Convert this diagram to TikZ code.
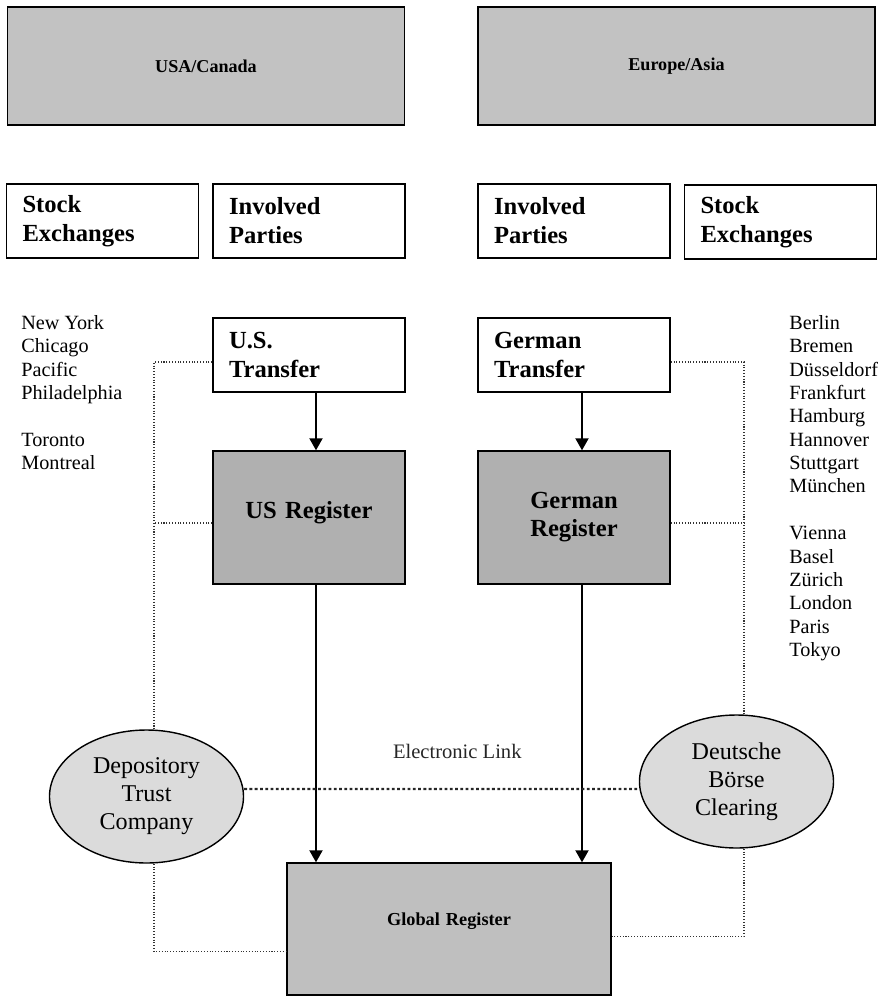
\documentclass[tikz,border=0pt]{standalone}
\usepackage{fontspec}
\setmainfont{Liberation Serif}
\usetikzlibrary{arrows.meta,shapes.geometric}

\definecolor{areagray}{gray}{0.76}
\definecolor{reggray}{gray}{0.69}
\definecolor{clrgray}{gray}{0.86}
\definecolor{globgray}{gray}{0.75}

\begin{document}
\begin{tikzpicture}[>={Triangle[length=0.24cm,width=0.26cm]},
  area/.style={draw, line width=0.8pt, fill=areagray, minimum width=7.94cm,
    minimum height=2.36cm, font=\bfseries\fontsize{10.3}{12}\selectfont},
  tag/.style={draw, line width=0.8pt, text width=3.2cm, inner xsep=0.32cm,
    minimum height=1.48cm, align=left, font=\bfseries\fontsize{14}{16.5}\selectfont},
  reg/.style={draw, line width=0.8pt, fill=reggray, text width=3.2cm, inner xsep=0.32cm,
    minimum height=2.66cm, align=center, font=\bfseries\fontsize{14}{16}\selectfont},
  clr/.style={draw, ellipse, line width=0.8pt, fill=clrgray, inner sep=0pt,
    minimum width=3.88cm, minimum height=2.66cm, align=center,
    font=\fontsize{13.7}{15.9}\selectfont},
  cities/.style={anchor=north west, inner sep=0pt, align=left,
    font=\fontsize{11.5}{13.3}\selectfont},
  flow/.style={line width=1.1pt},
  side/.style={line width=0.6pt, densely dotted, black!80},
  elink/.style={line width=1.3pt, dash pattern=on 1.6pt off 1.4pt, black!85}]
\useasboundingbox (0,0) rectangle (17.64,-19.94);

%%%%%%%%%%%%%%%%%%%%%% Regions
\draw (4.12,-1.32) node[area] (usa) {USA/Canada};
\draw (usa) ++ (9.41,0) node[area] (eur) {Europe/Asia};

%%%%%%%%%%%%%%%%%%%%%% Headings
\draw (2.05,-4.42) node[tag] (exL) {Stock\\Exchanges};
\draw (exL) ++ (4.13,0) node[tag] (parL) {Involved\\Parties};
\draw (parL) ++ (5.30,0) node[tag] (parR) {Involved\\Parties};
\draw (parR) ++ (4.13,-0.02) node[tag] (exR) {Stock\\Exchanges};

%%%%%%%%%%%%%%%%%%%%%% US side
\draw (parL) ++ (0,-2.68) node[tag] (usT) {U.S.\\Transfer};
\draw (usT) ++ (0,-3.25) node[reg] (usR) {\raisebox{0.3cm}{US Register}};
\coordinate (usA) at ([xshift=0.14cm]usT.south);
\coordinate (usB) at ([xshift=0.14cm]usR.north);
\path[draw, ->, flow] (usA) -- (usB);

%%%%%%%%%%%%%%%%%%%%%% German side
\draw (usT) ++ (5.30,0) node[tag] (deT) {German\\Transfer};
\draw (deT) ++ (0,-3.25) node[reg] (deR) {German\\Register};
\coordinate (deA) at ([xshift=0.16cm]deT.south);
\coordinate (deB) at ([xshift=0.16cm]deR.north);
\path[draw, ->, flow] (deA) -- (deB);

%%%%%%%%%%%%%%%%%%%%%% Exchanges
\draw (0.42,-6.30) node[cities] (cityL)
  {New York\\Chicago\\Pacific\\Philadelphia\\[13.3pt]Toronto\\Montreal};
\draw (15.78,-6.30) node[cities] (cityR)
  {Berlin\\Bremen\\Düsseldorf\\Frankfurt\\Hamburg\\Hannover\\Stuttgart\\München\\[13.3pt]%
   Vienna\\Basel\\Zürich\\London\\Paris\\Tokyo};

%%%%%%%%%%%%%%%%%%%%%% Global register
\draw (8.98,-18.58) node[reg, fill=globgray, text width=5.84cm, minimum height=2.64cm,
  font=\bfseries\fontsize{10.4}{12}\selectfont] (glob) {\raisebox{0.4cm}{Global Register}};
\coordinate (usC) at ([xshift=0.14cm]usR.south);
\coordinate (deC) at ([xshift=0.16cm]deR.south);
\path[draw, ->, flow] (usC) -- (usC |- glob.north);
\path[draw, ->, flow] (deC) -- (deC |- glob.north);

%%%%%%%%%%%%%%%%%%%%%% Clearing
\draw (2.93,-15.93) node[clr] (dtc) {Depository\\Trust\\Company};
\draw (14.73,-15.63) node[clr] (dbc) {Deutsche\\Börse\\Clearing};
\path[draw, elink] ([yshift=0.15cm]dtc.east) --
  node[pos=0.54, above=0.47cm, font=\fontsize{11.7}{14}\selectfont] (elabel) {Electronic Link}
  ([yshift=-0.15cm]dbc.west);

%% DTC links
\coordinate (dtcN) at ([xshift=0.15cm]dtc.north);
\coordinate (dtcS) at ([xshift=0.15cm]dtc.south);
\path[draw, side] ([yshift=-0.14cm]usT.west) -| (dtcN);
\path[draw, side] ([yshift=-0.11cm]usR.west) coordinate (usW) -- (usW -| dtcN);
\path[draw, side] (dtcS) |- ([yshift=-0.45cm]glob.west);
%% DBC links
\coordinate (dbcN) at ([xshift=0.15cm]dbc.north);
\coordinate (dbcS) at ([xshift=0.15cm]dbc.south);
\path[draw, side] ([yshift=-0.14cm]deT.east) -| (dbcN);
\path[draw, side] ([yshift=-0.11cm]deR.east) coordinate (deE) -- (deE -| dbcN);
\path[draw, side] (dbcS) |- ([yshift=-0.15cm]glob.east);
\end{tikzpicture}
\end{document}
